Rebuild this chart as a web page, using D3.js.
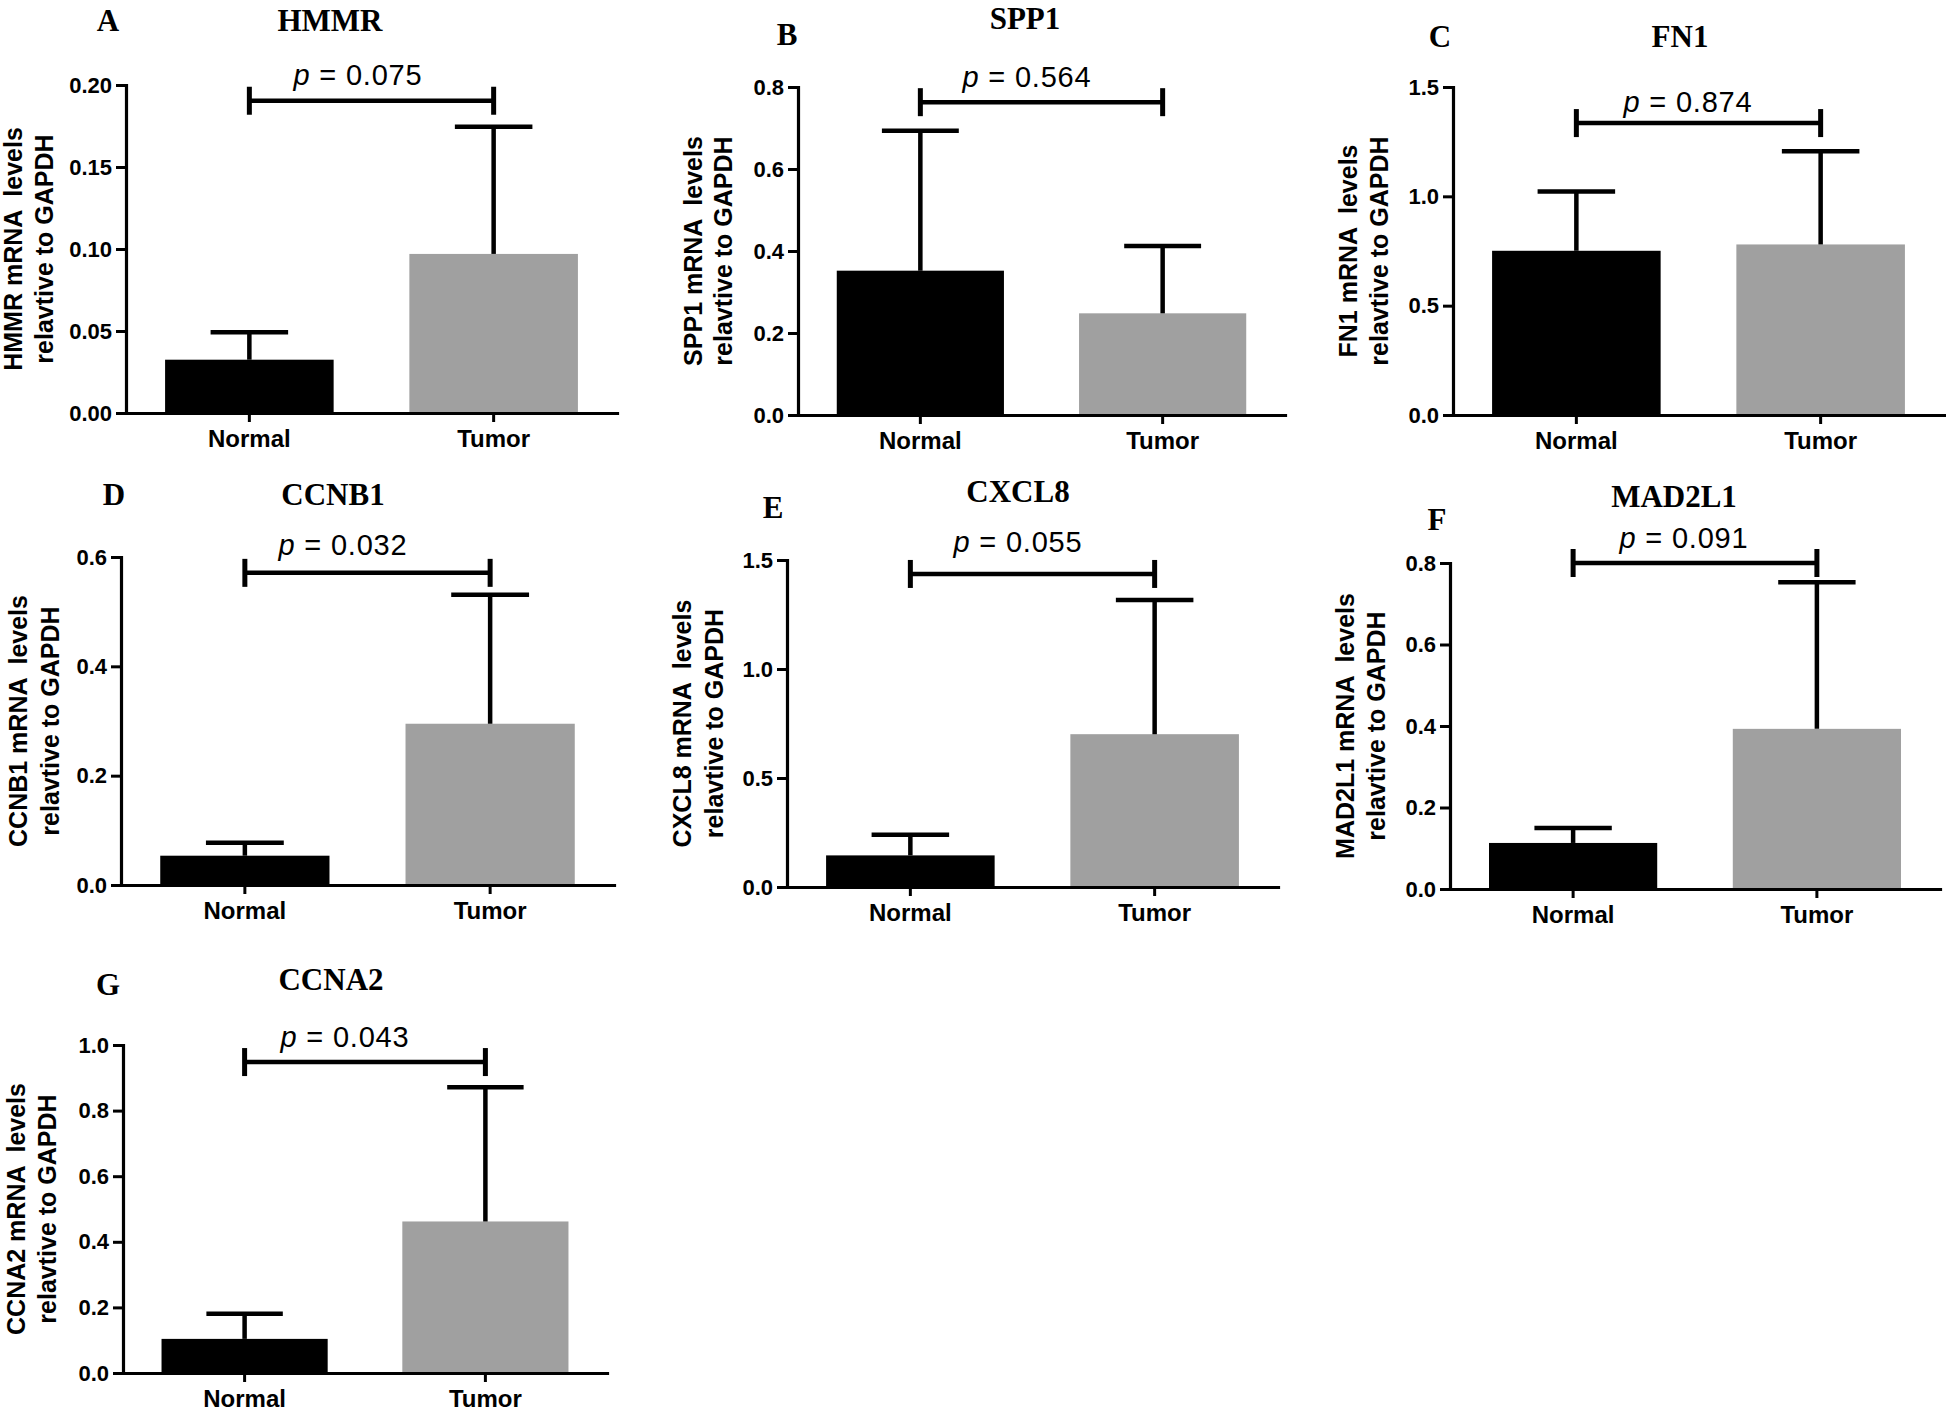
<!DOCTYPE html>
<html><head><meta charset="utf-8">
<script src="https://cdn.jsdelivr.net/npm/d3@7"></script>
<style>
html,body{margin:0;padding:0;background:#fff;}
svg{display:block;}
</style></head><body>
<svg id="chart" width="1946" height="1419"></svg>
<script>
// ---------- data ----------
const genes = ["HMMR", "SPP1", "FN1", "CCNB1", "CXCL8", "MAD2L1", "CCNA2"];
const panelLetters = ["A", "B", "C", "D", "E", "F", "G"];
const categories = ["Normal", "Tumor"];
const normalMeans = [0.0325, 0.352, 0.751, 0.0536, 0.145, 0.113, 0.104];
const normalErrTop = [0.0493, 0.693, 1.022, 0.0773, 0.240, 0.150, 0.181];
const tumorMeans = [0.097, 0.248, 0.780, 0.295, 0.701, 0.393, 0.462];
const tumorErrTop = [0.1746, 0.412, 1.206, 0.531, 1.316, 0.753, 0.871];
const pValues = ["0.075", "0.564", "0.874", "0.032", "0.055", "0.091", "0.043"];
const bracketLevels = [0.1904, 0.763, 1.335, 0.571, 1.436, 0.800, 0.948];
const yMax = [0.20, 0.8, 1.5, 0.6, 1.5, 0.8, 1.0];
const yStep = [0.05, 0.2, 0.5, 0.2, 0.5, 0.2, 0.2];
const tickDecimals = [2, 1, 1, 1, 1, 1, 1];

// ---------- layout (pixels) ----------
const layouts = [
  {axisX: 126,  xEnd: 617,  yTop: 85,   y0: 413,  titleX: 330,  titleY: 31,  letterX: 108,  letterY: 31,  pX: 358,  pY: 85,   t1: 104, t2: 73},
  {axisX: 798,  xEnd: 1285, yTop: 87,   y0: 415,  titleX: 1025, titleY: 29,  letterX: 787,  letterY: 45,  pX: 1027, pY: 87,   t1: 96,  t2: 66},
  {axisX: 1453, xEnd: 1944, yTop: 87,   y0: 415,  titleX: 1680, titleY: 47,  letterX: 1440, letterY: 47,  pX: 1688, pY: 112,  t1: 96,  t2: 65},
  {axisX: 121,  xEnd: 614,  yTop: 557,  y0: 885,  titleX: 333,  titleY: 505, letterX: 114,  letterY: 505, pX: 343,  pY: 555,  t1: 94,  t2: 62},
  {axisX: 787,  xEnd: 1278, yTop: 560,  y0: 887,  titleX: 1018, titleY: 502, letterX: 773,  letterY: 518, pX: 1018, pY: 552,  t1: 96,  t2: 64},
  {axisX: 1450, xEnd: 1940, yTop: 563,  y0: 889,  titleX: 1674, titleY: 507, letterX: 1437, letterY: 530, pX: 1684, pY: 548,  t1: 96,  t2: 65},
  {axisX: 123,  xEnd: 607,  yTop: 1045, y0: 1373, titleX: 331,  titleY: 990, letterX: 108,  letterY: 995, pX: 345,  pY: 1047, t1: 98,  t2: 67}
];

const SANS = "'Liberation Sans', Arial, Helvetica, sans-serif";
const SERIF = "'Liberation Serif', 'Times New Roman', serif";
const barColors = {Normal: "#000000", Tumor: "#a0a0a0"};

const svg = d3.select("#chart");
svg.append("rect").attr("width", 1946).attr("height", 1419).attr("fill", "#fff");

genes.forEach((gene, i) => {
  const L = layouts[i];
  const g = svg.append("g").attr("class", "panel-" + panelLetters[i]);

  const x = d3.scaleBand().domain(categories).range([L.axisX, L.xEnd])
    .paddingInner(0.31).paddingOuter(0.16);
  const y = d3.scaleLinear().domain([0, yMax[i]]).range([L.y0, L.yTop]);
  const ticks = d3.range(0, yMax[i] + yStep[i] / 2, yStep[i]);

  const rows = categories.map((c, k) => ({
    cat: c,
    mean: k === 0 ? normalMeans[i] : tumorMeans[i],
    top: k === 0 ? normalErrTop[i] : tumorErrTop[i]
  }));

  // bars
  g.selectAll("rect.bar").data(rows).join("rect")
    .attr("class", "bar")
    .attr("x", d => x(d.cat))
    .attr("width", x.bandwidth())
    .attr("y", d => y(d.mean))
    .attr("height", d => y(0) - y(d.mean))
    .attr("fill", d => barColors[d.cat]);

  // error bars (upper only)
  const capW = x.bandwidth() * 0.46;
  const eb = g.selectAll("g.err").data(rows).join("g").attr("class", "err")
    .attr("stroke", "#000").attr("stroke-width", 4.5).attr("fill", "none");
  eb.append("line")
    .attr("x1", d => x(d.cat) + x.bandwidth() / 2).attr("x2", d => x(d.cat) + x.bandwidth() / 2)
    .attr("y1", d => y(d.mean)).attr("y2", d => y(d.top));
  eb.append("line")
    .attr("x1", d => x(d.cat) + x.bandwidth() / 2 - capW / 2)
    .attr("x2", d => x(d.cat) + x.bandwidth() / 2 + capW / 2)
    .attr("y1", d => y(d.top)).attr("y2", d => y(d.top));

  // y axis
  const yAxis = d3.axisLeft(y).tickValues(ticks).tickSize(10).tickSizeOuter(0).tickPadding(4)
    .tickFormat(d3.format("." + tickDecimals[i] + "f"));
  const ya = g.append("g").attr("transform", `translate(${L.axisX},0)`).call(yAxis);
  ya.select(".domain").attr("stroke-width", 3.2).attr("stroke-linecap", "square");
  ya.selectAll(".tick line").attr("stroke-width", 3);
  ya.selectAll(".tick text").attr("font-family", SANS).attr("font-weight", "bold")
    .attr("font-size", 22).attr("fill", "#000");

  // x axis
  const xAxis = d3.axisBottom(x).tickSize(9).tickSizeOuter(0).tickPadding(8);
  const xa = g.append("g").attr("transform", `translate(0,${L.y0})`).call(xAxis);
  xa.select(".domain").attr("stroke-width", 3.2).attr("stroke-linecap", "square");
  xa.selectAll(".tick line").attr("stroke-width", 3);
  xa.selectAll(".tick text").attr("font-family", SANS).attr("font-weight", "bold")
    .attr("font-size", 24).attr("fill", "#000");

  // y-axis title (two lines)
  const yMid = (L.y0 + L.yTop) / 2;
  const ytLines = [gene + " mRNA  levels", "relavtive to GAPDH"];
  [L.t1, L.t2].forEach((off, k) => {
    g.append("text")
      .attr("transform", `translate(${L.axisX - off},${yMid}) rotate(-90)`)
      .attr("text-anchor", "middle")
      .attr("font-family", SANS).attr("font-weight", "bold").attr("font-size", 25)
      .style("white-space", "pre")
      .text(ytLines[k]);
  });

  // significance bracket
  const cx0 = x(categories[0]) + x.bandwidth() / 2;
  const cx1 = x(categories[1]) + x.bandwidth() / 2;
  const by = y(bracketLevels[i]);
  const br = g.append("g").attr("stroke", "#000").attr("fill", "none");
  br.append("line").attr("x1", cx0).attr("x2", cx1).attr("y1", by).attr("y2", by).attr("stroke-width", 4.5);
  br.append("line").attr("x1", cx0).attr("x2", cx0).attr("y1", by - 14).attr("y2", by + 14).attr("stroke-width", 5);
  br.append("line").attr("x1", cx1).attr("x2", cx1).attr("y1", by - 14).attr("y2", by + 14).attr("stroke-width", 5);

  // p value
  const pt = g.append("text").attr("x", L.pX).attr("y", L.pY)
    .attr("text-anchor", "middle").attr("font-family", SANS).attr("font-size", 29)
    .attr("letter-spacing", 0.8).attr("fill", "#000").style("white-space", "pre");
  pt.append("tspan").attr("font-style", "italic").text("p");
  pt.append("tspan").text(" = " + pValues[i]);

  // title and panel letter
  g.append("text").attr("x", L.titleX).attr("y", L.titleY).attr("text-anchor", "middle")
    .attr("font-family", SERIF).attr("font-weight", "bold").attr("font-size", 31).text(gene);
  g.append("text").attr("x", L.letterX).attr("y", L.letterY).attr("text-anchor", "middle")
    .attr("font-family", SERIF).attr("font-weight", "bold").attr("font-size", 31).text(panelLetters[i]);
});
</script>
</body></html>
